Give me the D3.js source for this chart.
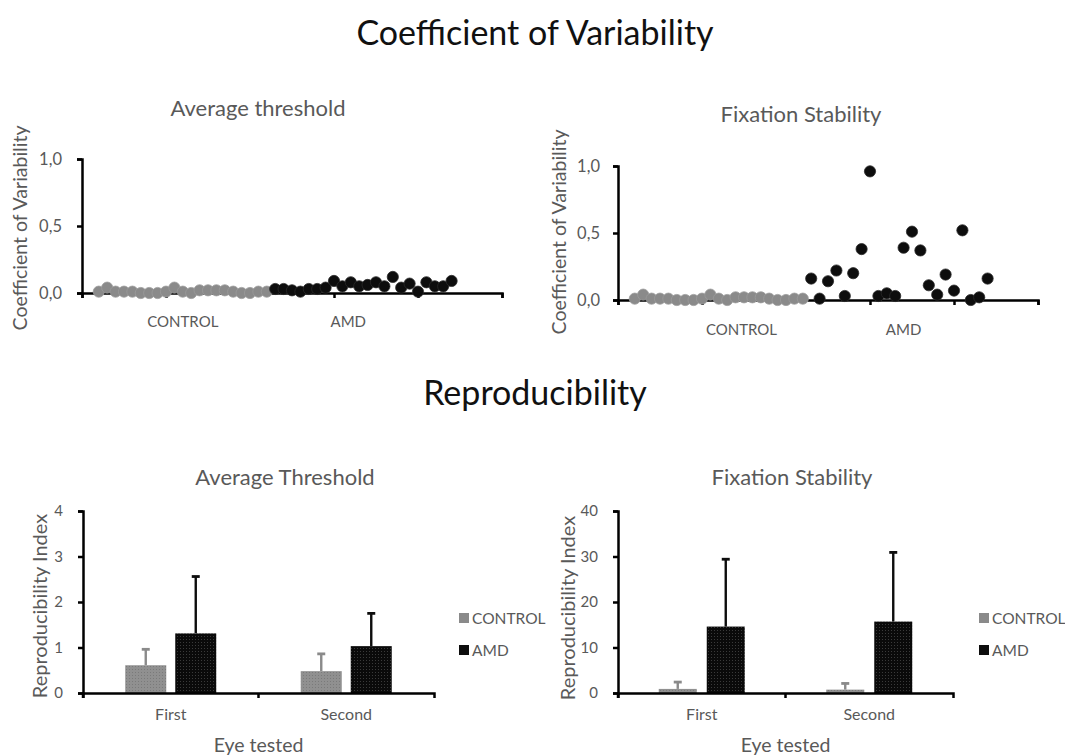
<!DOCTYPE html>
<html>
<head>
<meta charset="utf-8">
<script src="https://cdn.jsdelivr.net/npm/d3@7"></script>
<style>
  html, body { margin: 0; padding: 0; background: #fff; }
  svg { display: block; font-family: 'Lato', 'Open Sans', sans-serif; }
</style>
</head>
<body>
<svg id="chart" width="1065" height="755"></svg>
<script>
// ── Data ──────────────────────────────────────────────────────────────────
const GROUPS = ['CONTROL', 'AMD'];

// subject index on the hidden x axis (0..50)
const controlX = d3.range(2, 23);   // 21 controls
const amdX     = d3.range(23, 45);  // 22 AMD

const cvThreshControl = [0.01,0.04,0.01,0.01,0.01,0.00,0.00,0.00,0.01,0.04,0.01,
                         0.00,0.02,0.02,0.02,0.02,0.01,0.00,0.00,0.01,0.01];
const cvThreshAmd     = [0.03,0.03,0.02,0.01,0.03,0.03,0.04,0.09,0.05,0.08,0.05,
                         0.06,0.08,0.05,0.12,0.04,0.07,0.01,0.08,0.05,0.05,0.09];
const cvFixControl    = [0.01,0.04,0.01,0.01,0.01,0.00,0.00,0.00,0.01,0.04,0.01,
                         0.00,0.02,0.02,0.02,0.02,0.01,0.00,0.00,0.01,0.01];
const cvFixAmd        = [0.16,0.01,0.14,0.22,0.03,0.20,0.38,0.96,0.03,0.05,0.03,
                         0.39,0.51,0.37,0.11,0.04,0.19,0.07,0.52,0.00,0.02,0.16];

const cvTicks       = [0, 0.5, 1];
const groupLabelPos = { thresh: [12, 31.7], fix: [14.7, 34] };

const EYES = ['First', 'Second'];
const riThreshMean = { CONTROL: [0.61, 0.48], AMD: [1.31, 1.03] };
const riThreshErr  = { CONTROL: [0.96, 0.86], AMD: [2.56, 1.75] };  // top of error bar
const riFixMean    = { CONTROL: [0.9, 0.74],  AMD: [14.6, 15.7] };
const riFixErr     = { CONTROL: [2.4, 2.1],   AMD: [29.4, 30.9] };

const riThreshTicks = [0, 1, 2, 3, 4];
const riFixTicks    = [0, 10, 20, 30, 40];

// ── Style ─────────────────────────────────────────────────────────────────
const GREY   = '#8a8a8a';
const BLACK  = '#0d0d0d';
const TXT    = '#595959';
const FILL   = { CONTROL: GREY, AMD: BLACK };

const svg = d3.select('#chart');

// bar texture (the source bars are dotted)
const defs = svg.append('defs');
function dotPattern(id, bg, dot) {
  const p = defs.append('pattern').attr('id', id)
    .attr('width', 3).attr('height', 3).attr('patternUnits', 'userSpaceOnUse');
  p.append('rect').attr('width', 3).attr('height', 3).attr('fill', bg);
  p.append('rect').attr('width', 1).attr('height', 1).attr('fill', dot);
}
dotPattern('pat-control', '#909090', '#7a7a7a');
dotPattern('pat-amd', '#0a0a0a', '#3a3a3a');
const PAT = { CONTROL: 'url(#pat-control)', AMD: 'url(#pat-amd)' };

// ── Titles ────────────────────────────────────────────────────────────────
function text(x, y, str, size, color, anchor = 'middle') {
  return svg.append('text').attr('x', x).attr('y', y)
    .attr('font-size', size).attr('fill', color)
    .attr('text-anchor', anchor).text(str);
}
text(535, 45, 'Coefficient of Variability', 34, '#111');
text(535, 405, 'Reproducibility', 34, '#111');

function styleAxis(g) {
  g.select('.domain').attr('stroke', '#000').attr('stroke-width', 2.5);
  g.selectAll('.tick line').attr('stroke', '#000').attr('stroke-width', 2.5);
  g.selectAll('.tick text').attr('fill', TXT).attr('font-family', "'Lato', sans-serif");
}

// ── Scatter panels ────────────────────────────────────────────────────────
function scatterPanel(o) {
  const x = d3.scaleLinear().domain([0, 50]).range([o.x0, o.x1]);
  const y = d3.scaleLinear().domain([0, 1]).range([o.y0, o.y1]);

  text(o.titleX, o.titleY, o.title, 22, TXT);
  svg.append('text')
    .attr('transform', `translate(${o.labelX},${o.labelY}) rotate(-90)`)
    .attr('text-anchor', 'middle').attr('font-size', 19.5).attr('fill', TXT)
    .text('Coefficient of Variability');

  const ya = svg.append('g').attr('transform', `translate(${o.x0},0)`)
    .call(d3.axisLeft(y).tickValues(cvTicks).tickSize(5).tickSizeOuter(5)
      .tickFormat(d => d.toFixed(1).replace('.', ',')));
  ya.selectAll('.tick text').attr('font-size', 16.5).attr('dx', o.tickDx);
  styleAxis(ya);

  const xa = svg.append('g').attr('transform', `translate(0,${o.y0})`)
    .call(d3.axisBottom(x).tickValues(d3.range(0, 51, 10)).tickSize(5)
      .tickSizeOuter(5).tickFormat(''));
  styleAxis(xa);

  GROUPS.forEach((g, i) => {
    text(x(o.groupPos[i]), o.y0 + o.groupDy, g, 15, TXT);
  });

  const pts = [
    ...controlX.map((d, i) => ({ x: d, v: o.control[i], g: 'CONTROL' })),
    ...amdX.map((d, i)     => ({ x: d, v: o.amd[i],     g: 'AMD' }))
  ];
  svg.append('g').selectAll('circle').data(pts).join('circle')
    .attr('cx', d => x(d.x)).attr('cy', d => y(d.v))
    .attr('r', 5.6)
    .attr('fill', d => d.g === 'AMD' ? BLACK : GREY)
    .attr('stroke', d => d.g === 'AMD' ? '#2a2a2a' : '#9a9a9a')
    .attr('stroke-width', 0.8);
}

scatterPanel({
  x0: 82, x1: 502, y0: 293, y1: 159,
  title: 'Average threshold', titleX: 258, titleY: 116,
  labelX: 27, labelY: 228, tickDx: -12,
  groupPos: groupLabelPos.thresh, groupDy: 34,
  control: cvThreshControl, amd: cvThreshAmd
});
scatterPanel({
  x0: 618, x1: 1038, y0: 300, y1: 166,
  title: 'Fixation Stability', titleX: 801, titleY: 122,
  labelX: 566, labelY: 232, tickDx: -10,
  groupPos: groupLabelPos.fix, groupDy: 35,
  control: cvFixControl, amd: cvFixAmd
});

// ── Bar panels ────────────────────────────────────────────────────────────
function barPanel(o) {
  const x  = d3.scaleBand().domain(EYES).range([o.x0, o.x1]);
  const xs = d3.scaleBand().domain(GROUPS).range([0, o.barW * 2 + o.gap])
    .paddingInner(o.gap / (o.barW + o.gap));
  const y  = d3.scaleLinear().domain([0, o.ticks[o.ticks.length - 1]]).range([o.y0, o.y1]);

  text(o.titleX, 485, o.title, 22, TXT);
  svg.append('text')
    .attr('transform', `translate(${o.labelX},${o.labelY}) rotate(-90)`)
    .attr('text-anchor', 'middle').attr('font-size', 20).attr('fill', TXT)
    .text('Reproducibility Index');

  const grp = svg.append('g');
  EYES.forEach((eye, ei) => {
    const gx = x(eye) + (x.bandwidth() - (o.barW * 2 + o.gap)) / 2;
    GROUPS.forEach(g => {
      const bx = gx + xs(g);
      const cx = bx + xs.bandwidth() / 2;
      // error bar (upper only)
      grp.append('line').attr('x1', cx).attr('x2', cx)
        .attr('y1', y(o.mean[g][ei])).attr('y2', y(o.err[g][ei]))
        .attr('stroke', FILL[g]).attr('stroke-width', 2.4);
      grp.append('line').attr('x1', cx - 4).attr('x2', cx + 4)
        .attr('y1', y(o.err[g][ei])).attr('y2', y(o.err[g][ei]))
        .attr('stroke', FILL[g]).attr('stroke-width', 2.8);
      grp.append('rect').attr('x', bx).attr('width', xs.bandwidth())
        .attr('y', y(o.mean[g][ei])).attr('height', y(0) - y(o.mean[g][ei]))
        .attr('fill', PAT[g]);
    });
  });

  const ya = svg.append('g').attr('transform', `translate(${o.x0},0)`)
    .call(d3.axisLeft(y).tickValues(o.ticks).tickSize(5).tickSizeOuter(5)
      .tickFormat(d3.format('d')));
  ya.selectAll('.tick text').attr('font-size', 15).attr('dx', '-12');
  styleAxis(ya);

  const xa = svg.append('g').attr('transform', `translate(0,${o.y0})`)
    .call(d3.axisBottom(x).tickSize(0).tickSizeOuter(5));
  xa.selectAll('.tick text').attr('font-size', 16).attr('dy', '1.5em');
  styleAxis(xa);
  // separator ticks between categories
  [o.x0, (o.x0 + o.x1) / 2].forEach(tx => {
    xa.append('line').attr('x1', tx).attr('x2', tx)
      .attr('y1', 0).attr('y2', 5).attr('stroke', '#000').attr('stroke-width', 2.5);
  });

  text((o.x0 + o.x1) / 2, 752, 'Eye tested', 19.5, TXT);

  // legend
  const lg = svg.append('g').attr('transform', `translate(${o.legendX},0)`);
  GROUPS.forEach((g, i) => {
    const ly = 618 + i * 32;
    lg.append('rect').attr('x', 0).attr('y', ly - 5).attr('width', 10).attr('height', 10)
      .attr('fill', FILL[g]);
    lg.append('text').attr('x', 13).attr('y', ly + 5.5)
      .attr('font-size', 15.5).attr('fill', TXT).text(g);
  });
}

barPanel({
  x0: 83, x1: 434, y0: 693, y1: 511, barW: 41, gap: 9,
  title: 'Average Threshold', titleX: 285, labelX: 47, labelY: 606,
  ticks: riThreshTicks, mean: riThreshMean, err: riThreshErr, legendX: 459
});
barPanel({
  x0: 618, x1: 953, y0: 693, y1: 511, barW: 38, gap: 10,
  title: 'Fixation Stability', titleX: 792, labelX: 575, labelY: 608,
  ticks: riFixTicks, mean: riFixMean, err: riFixErr, legendX: 979
});
</script>
</body>
</html>
